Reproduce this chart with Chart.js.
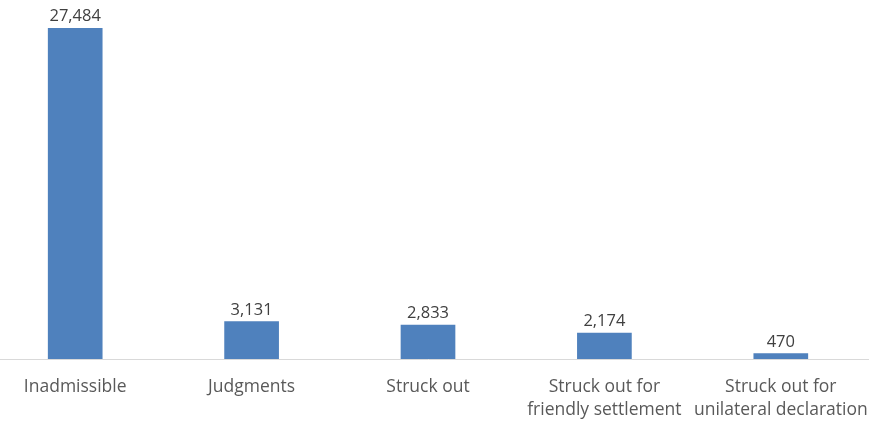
<!DOCTYPE html>
<html>
<head>
<meta charset="utf-8">
<script src="https://cdn.jsdelivr.net/npm/chart.js@4/dist/chart.umd.min.js"></script>
<style>
    html, body { margin: 0; padding: 0; background: #fff; overflow: hidden; }
    #wrap { position: relative; width: 872px; height: 424px; }
    #cases { position: absolute; left: -13px; top: 0; }
</style>
</head>
<body>
<div id="wrap">
    <canvas id="cases" width="882" height="424"></canvas>
</div>
<script>
const categories = [
    'Inadmissible',
    'Judgments',
    'Struck out',
    ['Struck out for', 'friendly settlement'],
    ['Struck out for', 'unilateral declaration']
];
const caseCounts = [27484, 3131, 2833, 2174, 470];

// draws the number above each bar
const valueLabels = {
    id: 'valueLabels',
    afterDatasetsDraw(chart) {
        const ctx = chart.ctx;
        const meta = chart.getDatasetMeta(0);
        ctx.save();
        ctx.font = '16.5px "Open Sans", sans-serif';
        ctx.fillStyle = '#404040';
        ctx.textAlign = 'center';
        ctx.textBaseline = 'bottom';
        meta.data.forEach((bar, i) => {
            ctx.fillText(caseCounts[i].toLocaleString('en-US'), bar.x, bar.y - 3);
        });
        ctx.restore();
    }
};

new Chart(document.getElementById('cases'), {
    type: 'bar',
    data: {
        labels: categories,
        datasets: [{
            data: caseCounts,
            backgroundColor: '#4f81bd',
            borderWidth: 0,
            barPercentage: 0.31,
            categoryPercentage: 1
        }]
    },
    options: {
        responsive: false,
        animation: false,
        layout: { padding: 0, autoPadding: false },
        scales: {
            y: {
                display: false,
                min: 0,
                max: 29800
            },
            x: {
                grid: { display: false, drawTicks: false },
                border: { display: true, color: '#d9d9d9', width: 1 },
                ticks: {
                    color: '#595959',
                    font: { family: '"Open Sans", sans-serif', size: 17.5, lineHeight: 1.32 },
                    padding: 16,
                    maxRotation: 0,
                    autoSkip: false
                },
                // keep the plot full width, labels may hang over the edges
                afterFit(scale) {
                    scale.paddingLeft = 0;
                    scale.paddingRight = 0;
                    scale.height = 65;
                }
            }
        },
        plugins: {
            legend: { display: false },
            tooltip: { enabled: false }
        }
    },
    plugins: [valueLabels]
});
</script>
</body>
</html>
